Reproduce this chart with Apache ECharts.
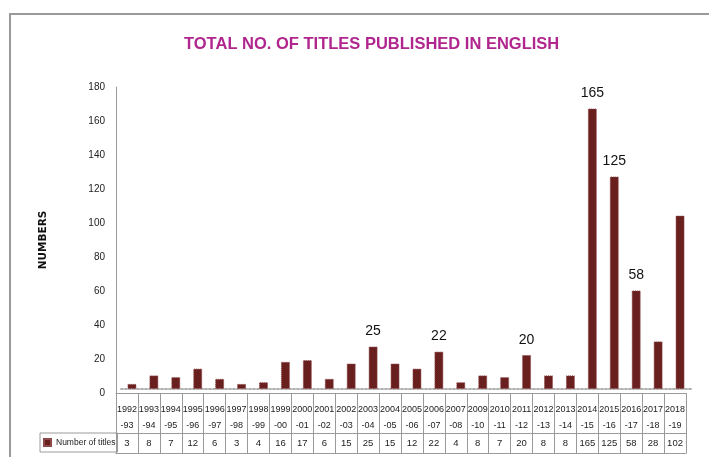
<!DOCTYPE html>
<html><head><meta charset="utf-8">
<script src="https://cdn.jsdelivr.net/npm/echarts@6/dist/echarts.min.js"></script>
<style>html,body{margin:0;padding:0;background:#fff}#c{width:709px;height:457px}</style>
</head><body><div id="c"></div>
<script>
var categories = ['1992-93','1993-94','1994-95','1995-96','1996-97','1997-98','1998-99','1999-00','2000-01','2001-02','2002-03','2003-04','2004-05','2005-06','2006-07','2007-08','2009-10','2010-11','2011-12','2012-13','2013-14','2014-15','2015-16','2016-17','2017-18','2018-19'];
var titles = [3,8,7,12,6,3,4,16,17,6,15,25,15,12,22,4,8,7,20,8,8,165,125,58,28,102];
var labeledCategories = ['2003-04','2006-07','2011-12','2014-15','2015-16','2016-17'];
var yTicks = [0,20,40,60,80,100,120,140,160,180];
var seriesName = 'Number of titles';
var titleText = 'TOTAL NO. OF TITLES PUBLISHED IN ENGLISH';
var yName = 'NUMBERS';

var font = "'Liberation Sans',Arial,sans-serif";
var gray = '#9a9a9a';
var chart = echarts.init(document.getElementById('c'));
chart.setOption({
  animation:false,
  title:{text:titleText,left:179,top:31,textStyle:{color:'#B0268E',fontFamily:font,fontWeight:'bold',fontSize:16.5}},
  legend:{data:[{name:seriesName,icon:'rect'}],left:40,top:433,orient:'horizontal',itemWidth:7,itemHeight:7,itemGap:0,
    padding:[5,2,5,3],borderColor:gray,borderWidth:1,selectedMode:false,
    textStyle:{fontFamily:font,fontSize:8.5,color:'#222'}},
  grid:[
    {left:116,right:23,top:87,bottom:64},
    {left:121,right:18,top:83,bottom:68},
    {left:10,right:0,top:14,bottom:0,show:false}
  ],
  xAxis:[
    {type:'category',gridIndex:0,data:categories,
      axisLine:{show:true,lineStyle:{color:gray}},
      axisTick:{show:true,length:60,interval:0,lineStyle:{color:gray}},
      axisLabel:{interval:0,margin:9,fontFamily:font,fontSize:9,color:'#222',lineHeight:16,
        formatter:function(v){var p=v.split('-');return p[0]+'\n-'+p[1];}}},
    {type:'category',gridIndex:0,data:categories,position:'bottom',offset:40,
      axisLine:{show:true,lineStyle:{color:gray}},axisTick:{show:false},
      axisLabel:{interval:0,margin:5,fontFamily:font,fontSize:9.5,color:'#222',
        formatter:function(v,i){return String(titles[i]);}}},
    {type:'category',gridIndex:0,data:categories,position:'bottom',offset:60,
      axisLine:{show:true,lineStyle:{color:gray}},axisTick:{show:false},axisLabel:{show:false}},
    {type:'category',gridIndex:1,data:categories,
      axisLine:{show:true,lineStyle:{color:'#b0b0b0',type:'dotted',width:2}},axisTick:{show:false},axisLabel:{show:false}},
    {type:'value',gridIndex:2,position:'top',min:0,max:1,axisLine:{show:true,onZero:false,lineStyle:{color:gray,width:2}},
      axisTick:{show:false},axisLabel:{show:false},splitLine:{show:false}}
  ],
  yAxis:[
    {type:'value',gridIndex:0,min:0,max:180,interval:20,
      name:yName,nameLocation:'middle',nameGap:67,nameRotate:90,
      nameTextStyle:{fontFamily:"'DejaVu Sans',sans-serif",fontWeight:'bold',fontSize:10.5,color:'#111'},
      axisLine:{show:true,lineStyle:{color:gray}},axisTick:{show:false},splitLine:{show:false},
      axisLabel:{margin:11,fontFamily:font,fontSize:10,color:'#222',
        formatter:function(v){return yTicks.indexOf(v)>=0?String(v):'';}}},
    {type:'value',gridIndex:1,min:0,max:180,interval:20,show:false,splitLine:{show:false}},
    {type:'value',gridIndex:2,position:'left',min:0,max:1,axisLine:{show:true,onZero:false,lineStyle:{color:gray,width:2}},
      axisTick:{show:false},axisLabel:{show:false},splitLine:{show:false}}
  ],
  series:[{
    name:seriesName,type:'bar',xAxisIndex:3,yAxisIndex:1,barWidth:9,
    itemStyle:{color:'#6A1F1F',borderColor:'#8d4a4a',borderWidth:1,borderType:'dotted'},
    data:titles.map(function(v,i){
      return {value:v,label:{show:labeledCategories.indexOf(categories[i])>=0}};
    }),
    label:{position:'top',distance:8,fontFamily:font,fontSize:14,color:'#111',formatter:'{c}'}
  }]
});
</script></body></html>
